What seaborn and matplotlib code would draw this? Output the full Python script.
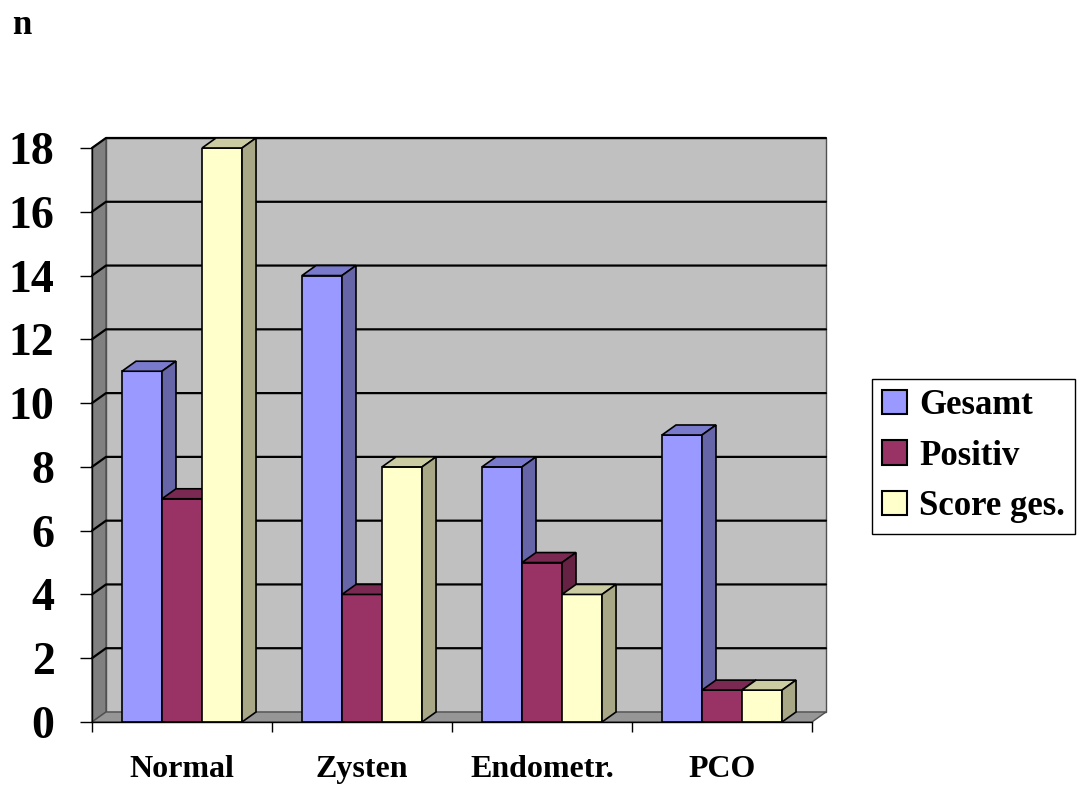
import matplotlib
matplotlib.use("Agg")
import matplotlib.pyplot as plt
from matplotlib.patches import Polygon, Patch
import pandas as pd
import seaborn as sns

categories = ["Normal", "Zysten", "Endometr.", "PCO"]
series = ["Gesamt", "Positiv", "Score ges."]
gesamt = [11, 14, 8, 9]
positiv = [7, 4, 5, 1]
score = [18, 8, 4, 1]
y_ticks = [0, 2, 4, 6, 8, 10, 12, 14, 16, 18]
colors = ["#9999FF", "#993366", "#FFFFCC"]

df = pd.DataFrame({
    "Kategorie": categories * 3,
    "Serie": [s for s in series for _ in categories],
    "n": gesamt + positiv + score,
})

sns.set_theme(style="white")
plt.rcParams["font.family"] = ["Liberation Serif", "DejaVu Serif"]
plt.rcParams["font.weight"] = "bold"
plt.rcParams["text.color"] = "black"
plt.rcParams["xtick.color"] = "black"
plt.rcParams["ytick.color"] = "black"

fig = plt.figure(figsize=(10.83, 7.89), dpi=100)
ax = fig.add_axes([92 / 1083, 67 / 789, 720 / 1083, 574 / 789])

XMIN, XMAX, YMAX = -0.5, 3.5, 18
# depth offset of the pseudo-3D walls and bar faces (data units)
DX = 14 / 180
DY = 10 / (574 / 18)


def shade(hex_color, f):
    r, g, b = matplotlib.colors.to_rgb(hex_color)
    return (r * f, g * f, b * f)


# walls and floor
ax.add_patch(Polygon([(XMIN + DX, DY), (XMAX + DX, DY), (XMAX + DX, YMAX + DY), (XMIN + DX, YMAX + DY)],
                     closed=True, facecolor="#C0C0C0", edgecolor="#505050", lw=1.0, zorder=0, clip_on=False))
ax.add_patch(Polygon([(XMIN, 0), (XMIN + DX, DY), (XMIN + DX, YMAX + DY), (XMIN, YMAX)],
                     closed=True, facecolor="#808080", edgecolor="#505050", lw=1.0, zorder=0.5, clip_on=False))
ax.add_patch(Polygon([(XMIN, 0), (XMAX, 0), (XMAX + DX, DY), (XMIN + DX, DY)],
                     closed=True, facecolor="#969696", edgecolor="#505050", lw=1.0, zorder=0.5, clip_on=False))
for v in y_ticks[1:]:
    ax.plot([XMIN, XMIN + DX, XMAX + DX], [v, v + DY, v + DY], color="black", lw=1.6,
            zorder=0.8, clip_on=False)

sns.barplot(data=df, x="Kategorie", y="n", hue="Serie", palette=colors, width=0.667,
            edgecolor="black", linewidth=1.2, saturation=1, legend=False, ax=ax)

# top and side faces of each bar, layered left to right
bars = [p for p in ax.patches if isinstance(p, matplotlib.patches.Rectangle) and p.get_height() > 0]
bars.sort(key=lambda p: p.get_x())
for i, p in enumerate(bars):
    x0, w, h = p.get_x(), p.get_width(), p.get_height()
    fc = matplotlib.colors.to_hex(p.get_facecolor())
    z = 2 + i * 0.1
    p.set_zorder(z)
    ax.add_patch(Polygon([(x0, h), (x0 + w, h), (x0 + w + DX, h + DY), (x0 + DX, h + DY)], closed=True,
                         facecolor=shade(fc, 0.8), edgecolor="black", lw=1.2, zorder=z + 0.01, clip_on=False))
    ax.add_patch(Polygon([(x0 + w, 0), (x0 + w + DX, DY), (x0 + w + DX, h + DY), (x0 + w, h)], closed=True,
                         facecolor=shade(fc, 0.66), edgecolor="black", lw=1.2, zorder=z + 0.01, clip_on=False))

ax.set_xlim(XMIN, XMAX)
ax.set_ylim(0, YMAX)
ax.set_xlabel("")
ax.set_ylabel("")
ax.set_yticks(y_ticks)
ax.set_yticklabels([str(v) for v in y_ticks], fontsize=33, fontweight="bold", color="black")
ax.set_xticks([-0.5, 0.5, 1.5, 2.5, 3.5])
ax.set_xticklabels([])
ax.set_xticks([0, 1, 2, 3], minor=True)
ax.set_xticklabels(categories, minor=True, fontsize=23, fontweight="bold", color="black")
ax.tick_params(axis="y", which="major", direction="out", length=9, width=1, color="black", pad=18, left=True)
ax.tick_params(axis="x", which="major", direction="out", length=7, width=1, color="black", bottom=True)
ax.tick_params(axis="x", which="minor", length=0, pad=24)
for s in ["top", "right"]:
    ax.spines[s].set_visible(False)
for s in ["left", "bottom"]:
    ax.spines[s].set_color("black")
    ax.spines[s].set_linewidth(1.0)
    ax.spines[s].set_zorder(5)
ax.set_facecolor("none")

fig.text(12 / 1083, 1 - 34 / 789, "n", fontsize=25, fontweight="bold", ha="left", va="baseline",
         color="black")

handles = [Patch(facecolor=c, edgecolor="black", linewidth=1.5) for c in colors]
leg = fig.legend(handles, series, loc="upper left", bbox_to_anchor=(872 / 1083, 1 - 379 / 789),
                 fontsize=25, frameon=True, fancybox=False, edgecolor="black", framealpha=1,
                 handlelength=0.7, handleheight=0.7, handletextpad=0.35, labelspacing=0.5,
                 borderpad=0.3, borderaxespad=0)
leg.get_frame().set_linewidth(1.0)
for t in leg.get_texts():
    t.set_fontweight("bold")
    t.set_color("black")

fig.savefig("out.png", dpi=100, facecolor="white")
